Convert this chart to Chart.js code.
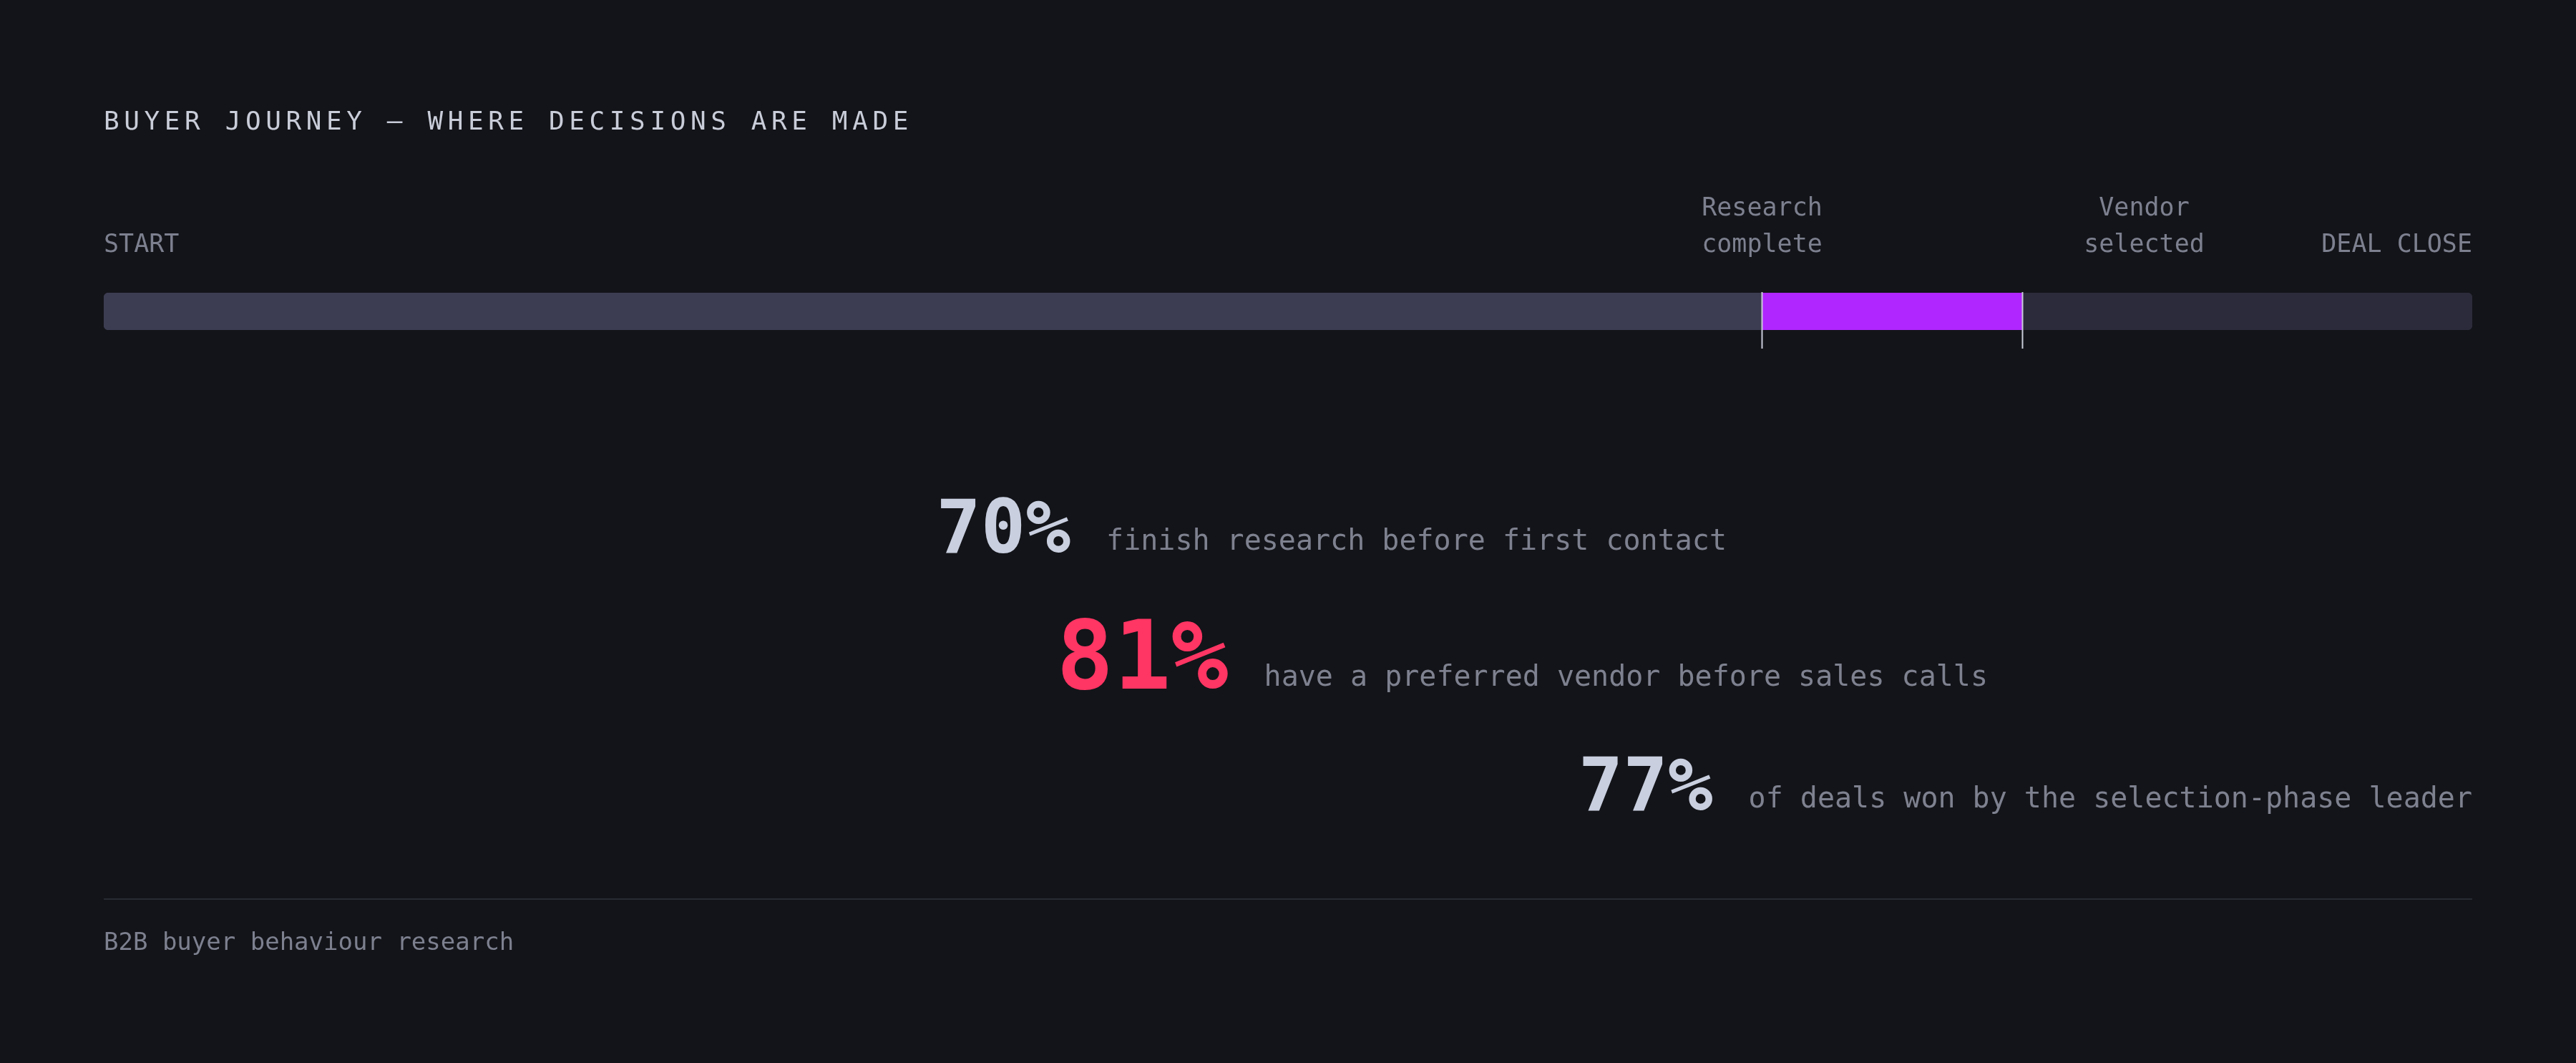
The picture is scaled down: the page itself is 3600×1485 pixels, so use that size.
<!DOCTYPE html>
<html><head><meta charset="utf-8">
<script src="https://cdn.jsdelivr.net/npm/chart.js@4"></script>
<style>html,body{margin:0;padding:0;background:#131419;}#wrap{width:3600px;height:1485px;position:relative;}</style>
</head><body><div id="wrap"><canvas id="c" width="3600" height="1485"></canvas></div>
<script>
const title = 'BUYER JOURNEY — WHERE DECISIONS ARE MADE';
const segmentNames = ['Researching', 'Vendor selection', 'Sales process'];
const segmentValues = [70, 11, 19];
const segmentColors = ['#3c3d52', '#b026ff', '#2b2b3b'];
const markerValues = [70, 81];
const markerLabels = [['Research', 'complete'], ['Vendor', 'selected']];
const endLabels = ['START', 'DEAL CLOSE'];
const statValues = ['70%', '81%', '77%'];
const statTexts = ['finish research before first contact', 'have a preferred vendor before sales calls', 'of deals won by the selection-phase leader'];
const footer = 'B2B buyer behaviour research';

const MONO = '"DejaVu Sans Mono", "Liberation Mono", monospace';
const overlay = {
  id: 'overlay',
  afterDraw(chart) {
    const ctx = chart.ctx, xs = chart.scales.x;
    ctx.save();
    ctx.textBaseline = 'alphabetic';
    // title
    ctx.fillStyle = '#c9cdd9';
    ctx.font = '36px ' + MONO;
    ctx.letterSpacing = '6.6px';
    ctx.textAlign = 'left';
    ctx.fillText(title, 145, 181);
    ctx.letterSpacing = '0px';
    // end labels
    ctx.fillStyle = '#7d808f';
    ctx.font = '35px ' + MONO;
    ctx.fillText(endLabels[0], xs.getPixelForValue(0), 352);
    ctx.textAlign = 'right';
    ctx.fillText(endLabels[1], xs.getPixelForValue(100), 352);
    // markers
    const yTop = chart.chartArea.top, yBot = chart.chartArea.bottom;
    const offsets = [0, 170];
    markerValues.forEach((v, i) => {
      const x = Math.round(xs.getPixelForValue(v)) + 0.5;
      ctx.strokeStyle = '#c8ccd8';
      ctx.lineWidth = 2;
      ctx.beginPath(); ctx.moveTo(x, yTop - 1); ctx.lineTo(x, yBot + 26); ctx.stroke();
      ctx.fillStyle = '#7d808f';
      ctx.textAlign = 'center';
      ctx.font = '35px ' + MONO;
      ctx.fillText(markerLabels[i][0], x + offsets[i], 301);
      ctx.fillText(markerLabels[i][1], x + offsets[i], 352);
    });
    // stats
    const rights = [2413, 2778, xs.getPixelForValue(100)];
    const baselines = [772, 962, 1132];
    const numSizes = [104, 133, 104];
    const numColors = ['#c9cfdf', '#ff3563', '#c9cfdf'];
    statValues.forEach((s, i) => {
      ctx.textAlign = 'right';
      ctx.font = '40px ' + MONO;
      ctx.fillStyle = '#7e818f';
      ctx.fillText(statTexts[i], rights[i], baselines[i] - 4);
      const w = ctx.measureText(statTexts[i]).width;
      ctx.font = 'bold ' + numSizes[i] + 'px ' + MONO;
      ctx.fillStyle = numColors[i];
      ctx.fillText(s, rights[i] - w - 50, baselines[i]);
    });
    // divider + footer
    ctx.fillStyle = '#2a2c34';
    ctx.fillRect(145, 1255, xs.getPixelForValue(100) - 145, 2);
    ctx.fillStyle = '#7d808f';
    ctx.textAlign = 'left';
    ctx.font = '34px ' + MONO;
    ctx.fillText(footer, 145, 1327);
    ctx.restore();
  }
};

new Chart(document.getElementById('c'), {
  type: 'bar',
  data: {
    labels: ['Journey'],
    datasets: segmentValues.map((v, i) => ({
      label: segmentNames[i],
      data: [v],
      backgroundColor: segmentColors[i],
      borderWidth: 0,
      borderSkipped: false,
      barThickness: 52,
      borderRadius: i === 0 ? {topLeft: 7, bottomLeft: 7} : (i === segmentValues.length - 1 ? {topRight: 7, bottomRight: 7} : 0)
    }))
  },
  options: {
    indexAxis: 'y',
    responsive: false,
    animation: false,
    devicePixelRatio: 1,
    layout: {padding: {left: 145, right: 145, top: 409, bottom: 1024}},
    plugins: {legend: {display: false}, tooltip: {enabled: false}},
    scales: {
      x: {stacked: true, min: 0, max: 100, display: false},
      y: {stacked: true, display: false}
    }
  },
  plugins: [overlay]
});
</script></body></html>
